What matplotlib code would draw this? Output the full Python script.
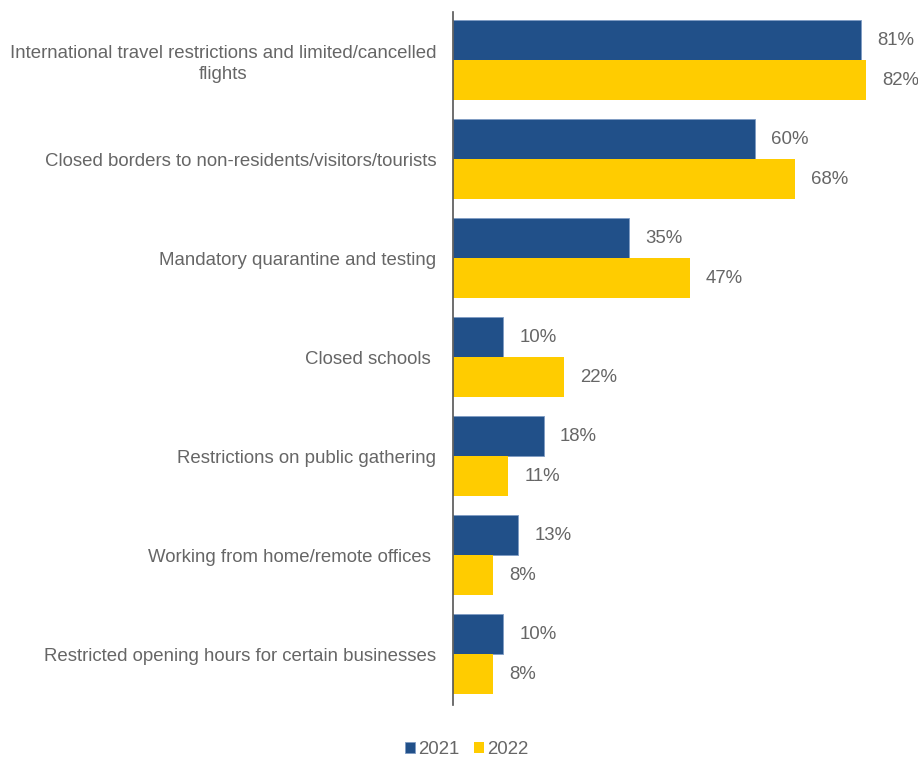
import numpy as np
import matplotlib
matplotlib.use("Agg")
import matplotlib.pyplot as plt

# dados
categorias = [
    "International travel restrictions and limited/cancelled\nflights",
    "Closed borders to non-residents/visitors/tourists",
    "Mandatory quarantine and testing",
    "Closed schools ",
    "Restrictions on public gathering",
    "Working from home/remote offices ",
    "Restricted opening hours for certain businesses",
]
valores_2021 = [81, 60, 35, 10, 18, 13, 10]
valores_2022 = [82, 68, 47, 22, 11, 8, 8]
series = ["2021", "2022"]

AZUL = "#215089"
AMARELO = "#FFCC00"
CINZA = "#666666"
FS = 13.4

plt.rcParams['font.family'] = ['Liberation Sans', 'DejaVu Sans']

fig = plt.figure(figsize=(9.18, 7.61), dpi=100)
ax = fig.add_axes([0.4935, 0.0736, 0.5045, 0.9106])

y = np.arange(len(categorias))
h = 0.404

b1 = ax.barh(y - h / 2, valores_2021, height=h, color=AZUL, edgecolor="#7f9cc4",
             linewidth=0.6, label=series[0])
b2 = ax.barh(y + h / 2, valores_2022, height=h, color=AMARELO, label=series[1])

# rótulos de valor
for barras in (b1, b2):
    for b in barras:
        ax.annotate(f"{b.get_width():.0f}%", (b.get_width(), b.get_y() + b.get_height() / 2),
                    xytext=(11.5, 0), textcoords="offset points", va="center", ha="left",
                    fontsize=FS, color=CINZA)

ax.set_xlim(0, 92)
ax.set_ylim(len(categorias) - 0.485, -0.485)
ax.set_yticks(y)
ax.set_yticklabels(categorias, fontsize=FS, color=CINZA, multialignment="center",
                   linespacing=1.3)
ax.tick_params(axis="y", length=0, pad=12)
ax.set_xticks([])
for s in ("top", "right", "bottom"):
    ax.spines[s].set_visible(False)
ax.spines["left"].set_color("#555555")
ax.spines["left"].set_linewidth(1.2)

leg = fig.legend(handles=[b1, b2], labels=series, loc="center", bbox_to_anchor=(0.508, 0.015),
                 ncol=2, frameon=False, fontsize=FS, handlelength=0.55, handleheight=0.55,
                 handletextpad=0.15, columnspacing=0.8)
for t in leg.get_texts():
    t.set_color(CINZA)

fig.savefig("out.png", dpi=100)
